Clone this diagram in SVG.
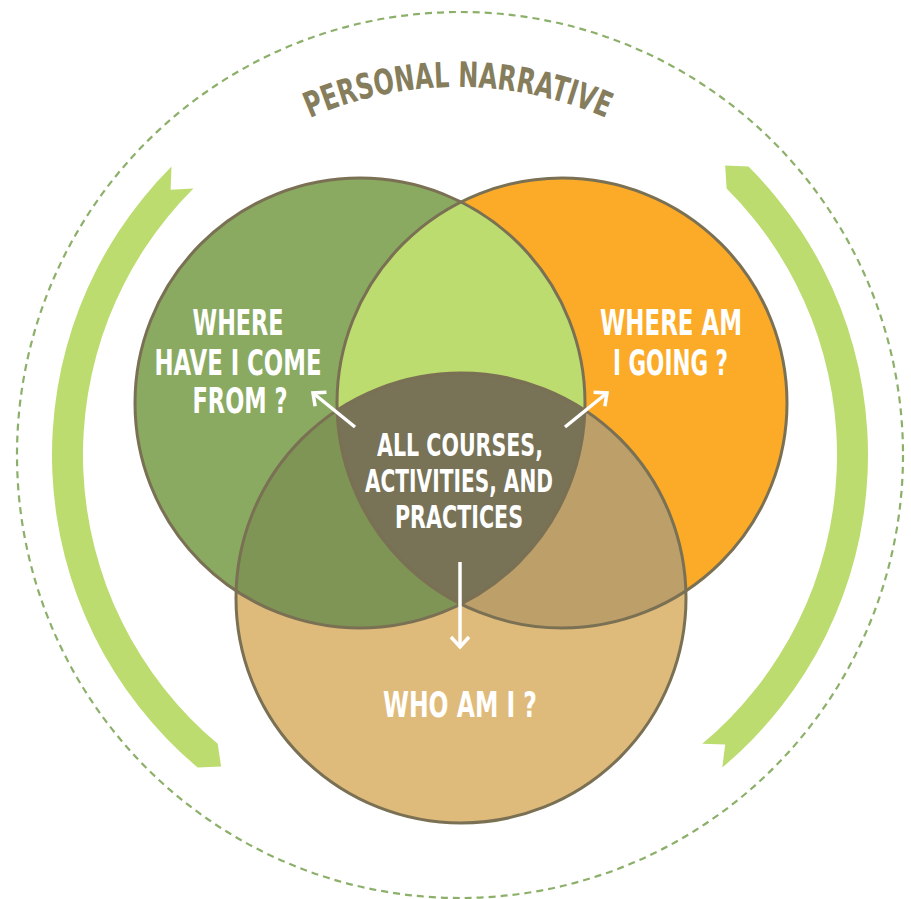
<svg xmlns="http://www.w3.org/2000/svg" width="911" height="899" viewBox="0 0 911 899">
<style>
.lbl{font-family:'DejaVu Sans Condensed','DejaVu Sans',sans-serif;font-stretch:condensed;font-weight:bold;fill:#ffffff;text-anchor:middle;font-size:35.5px}
.mid{font-size:32.5px}
.title{font-family:'DejaVu Sans Condensed','DejaVu Sans',sans-serif;font-stretch:condensed;font-weight:bold;fill:#857d5c;font-size:35px}
.ring{fill:#bcdc70}
.edge{fill:none;stroke:#7a7054;stroke-width:3}
.arrow{fill:none;stroke:#ffffff;stroke-width:3.5;marker-end:url(#ah)}
</style>
<defs>
<clipPath id="cG"><circle cx="360" cy="403" r="225"/></clipPath>
<clipPath id="cO"><circle cx="562" cy="403" r="225"/></clipPath>
<marker id="ah" markerUnits="userSpaceOnUse" markerWidth="30" markerHeight="30" viewBox="-15 -15 30 30" refX="0" refY="0" orient="auto" overflow="visible">
<path d="M-10,-9 L0,0 L-10,9" fill="none" stroke="#ffffff" stroke-width="3.5"/>
</marker>
<path id="arcTitle" d="M90,455 A368,368 0 0 1 826,455"/>
</defs>
<rect width="911" height="899" fill="#ffffff"/>
<g id="frame">
<circle cx="460" cy="455" r="443" fill="none" stroke="#8cb06a" stroke-width="2.2" stroke-dasharray="7 5"/>
</g>
<g id="ribbon-left">
<path class="ring" d="M171.5,166.5 A408,408 0 0 0 197.7,767.5 L221.1,766.4 L217.7,743.8 A377,377 0 0 1 193.4,188.4 L170.6,189.8 Z"/>
</g>
<g id="ribbon-right">
<path class="ring" d="M748.5,166.5 A408,408 0 0 1 722.3,767.5 L725.2,744.4 L702.3,743.8 A377,377 0 0 0 726.6,188.4 L725.2,165.6 Z"/>
</g>
<g id="title">
<text class="title"><textPath href="#arcTitle" startOffset="50%" text-anchor="middle" textLength="305" lengthAdjust="spacingAndGlyphs">PERSONAL NARRATIVE</textPath></text>
</g>
<g id="venn">
<g id="circle-past"><circle cx="360" cy="403" r="225" fill="#8aaa62"/></g>
<g id="circle-future"><circle cx="562" cy="403" r="225" fill="#fcab28"/></g>
<g id="circle-self"><circle cx="461" cy="598" r="225" fill="#dfbb7b"/></g>
<circle cx="562" cy="403" r="225" fill="#bcdc70" clip-path="url(#cG)"/>
<circle cx="461" cy="598" r="225" fill="#7f9555" clip-path="url(#cG)"/>
<circle cx="461" cy="598" r="225" fill="#bc9f69" clip-path="url(#cO)"/>
<g clip-path="url(#cG)"><circle id="core" cx="461" cy="598" r="225" fill="#787256" clip-path="url(#cO)"/></g>
<circle class="edge" cx="360" cy="403" r="225"/>
<circle class="edge" cx="562" cy="403" r="225"/>
<circle class="edge" cx="461" cy="598" r="225"/>
</g>
<g id="connectors">
<line class="arrow" x1="355" y1="427" x2="313" y2="393"/>
<line class="arrow" x1="565" y1="427" x2="607" y2="393"/>
<line class="arrow" x1="460" y1="562" x2="460" y2="647"/>
</g>
<g id="label-past">
<text class="lbl" x="238" y="335" textLength="91" lengthAdjust="spacingAndGlyphs">WHERE</text>
<text class="lbl" x="238" y="375" textLength="167" lengthAdjust="spacingAndGlyphs">HAVE I COME</text>
<text class="lbl" x="240" y="413" textLength="95" lengthAdjust="spacingAndGlyphs">FROM ?</text>
</g>
<g id="label-future">
<text class="lbl" x="671" y="335" textLength="142" lengthAdjust="spacingAndGlyphs">WHERE AM</text>
<text class="lbl" x="670.5" y="375" textLength="115" lengthAdjust="spacingAndGlyphs">I GOING ?</text>
</g>
<g id="label-core">
<text class="lbl mid" x="460" y="456" textLength="166" lengthAdjust="spacingAndGlyphs">ALL COURSES,</text>
<text class="lbl mid" x="459" y="492" textLength="188" lengthAdjust="spacingAndGlyphs">ACTIVITIES, AND</text>
<text class="lbl mid" x="459" y="528" textLength="128" lengthAdjust="spacingAndGlyphs">PRACTICES</text>
</g>
<g id="label-self">
<text class="lbl" x="460" y="717" textLength="154" lengthAdjust="spacingAndGlyphs">WHO AM I ?</text>
</g>
</svg>
